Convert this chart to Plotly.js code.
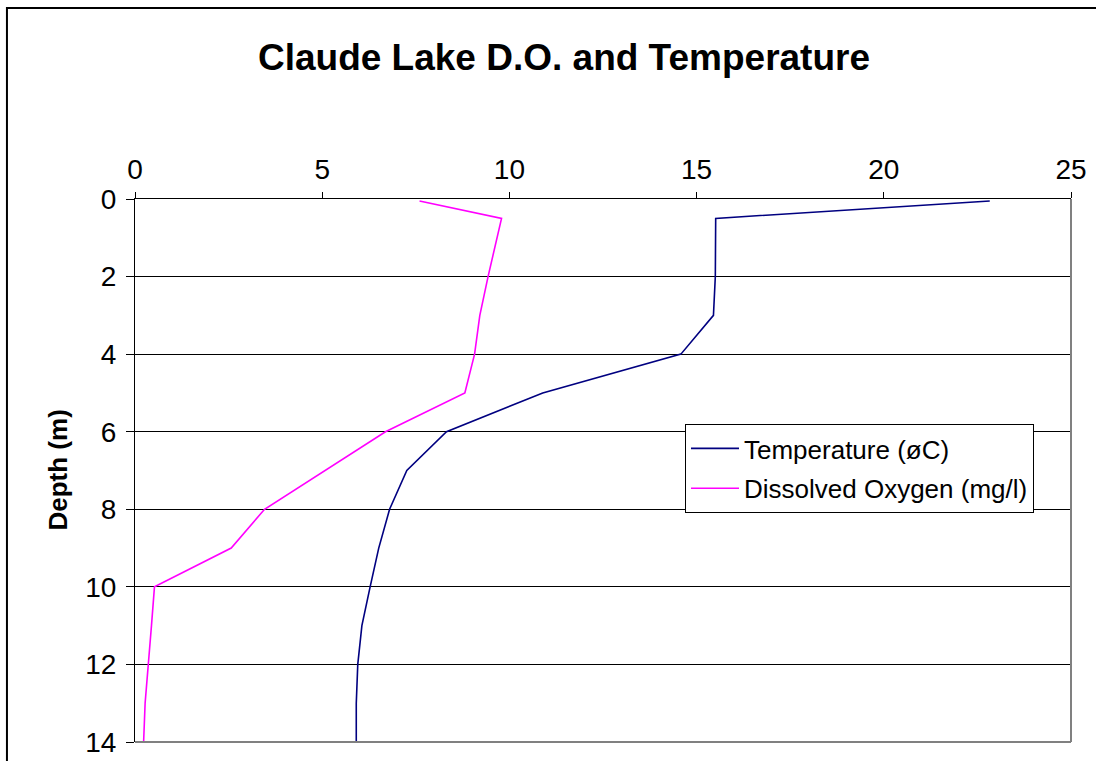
<!DOCTYPE html>
<html>
<head>
<meta charset="utf-8">
<script src="https://cdn.plot.ly/plotly-3.0.1.min.js"></script>
<style>html,body{margin:0;padding:0;background:#fff;}#chart{width:1096px;height:761px;}</style>
</head>
<body>
<div id="chart"></div>
<script>
const depth = [0.05, 0.5, 2, 3, 4, 5, 6, 7, 8, 9, 10, 11, 12, 13, 14];
const temperature = [22.83, 15.51, 15.5, 15.45, 14.58, 10.89, 8.32, 7.26, 6.8, 6.51, 6.28, 6.06, 5.95, 5.91, 5.91];
const dissolvedOxygen = [7.6, 9.79, 9.43, 9.21, 9.07, 8.81, 6.69, 5.09, 3.46, 2.57, 0.52, 0.44, 0.36, 0.27, 0.23];
const xTicks = [0, 5, 10, 15, 20, 25];
const yTicks = [0, 2, 4, 6, 8, 10, 12, 14];

const font = "Liberation Sans, Arial, sans-serif";
const traces = [
  {x: temperature, y: depth, mode: "lines", name: "Temperature (øC)", legendgroup: "a",
   line: {color: "#000080", width: 1.6}},
  {x: dissolvedOxygen, y: depth, mode: "lines", name: "Dissolved Oxygen (mg/l)", legendgroup: "b",
   line: {color: "#FF00FF", width: 1.6}}
];
const layout = {
  width: 1096, height: 761,
  margin: {l: 135, r: 25, t: 199, b: 19},
  paper_bgcolor: "#fff", plot_bgcolor: "#fff",
  font: {family: font, color: "#000", size: 28},
  showlegend: true,
  title: {text: "<b>Claude Lake D.O. and Temperature</b>", font: {family: font, size: 37, color: "#000"},
          x: 0.5146, xref: "container", xanchor: "center", y: 0.925, yref: "container", yanchor: "middle"},
  xaxis: {side: "top", range: [0, 25], tickvals: xTicks, ticks: "outside", ticklen: 6, tickcolor: "#000",
          showgrid: false, zeroline: false, showline: true, linecolor: "#000", linewidth: 1,
          tickfont: {size: 28, family: font}, ticklabelstandoff: 2, fixedrange: true},
  yaxis: {range: [14, 0], tickvals: yTicks, ticks: "outside", ticklen: 8, tickcolor: "#000",
          showgrid: true, gridcolor: "#000", gridwidth: 1, zeroline: false,
          showline: true, linecolor: "#000", linewidth: 1,
          tickfont: {size: 28, family: font}, ticklabelstandoff: 4, fixedrange: true},
  legend: {x: 0.5876, y: 0.5856, xanchor: "left", yanchor: "top", bgcolor: "#fff",
           bordercolor: "#000", borderwidth: 1, font: {size: 26, family: font},
           itemwidth: 48, tracegroupgap: 3},
  annotations: [{text: "<b>Depth (m)</b>", xref: "paper", yref: "paper", x: -0.0833, y: 0.5,
                 textangle: -90, showarrow: false, font: {size: 26, family: font, color: "#000"},
                 xanchor: "center", yanchor: "middle"}],
  shapes: [
    {type: "line", xref: "paper", yref: "paper", x0: 1, x1: 1, y0: 0, y1: 1, line: {color: "#808080", width: 2}},
    {type: "line", xref: "paper", yref: "paper", x0: 0, x1: 1, y0: 0, y1: 0, line: {color: "#808080", width: 2}},
    {type: "rect", xref: "paper", yref: "paper", x0: -0.1368, x1: 1.05, y0: -0.06, y1: 1.3517,
     line: {color: "#000", width: 2}, fillcolor: "rgba(0,0,0,0)", layer: "below"}
  ]
};
Plotly.newPlot("chart", traces, layout, {displayModeBar: false, staticPlot: true});
</script>
</body>
</html>
